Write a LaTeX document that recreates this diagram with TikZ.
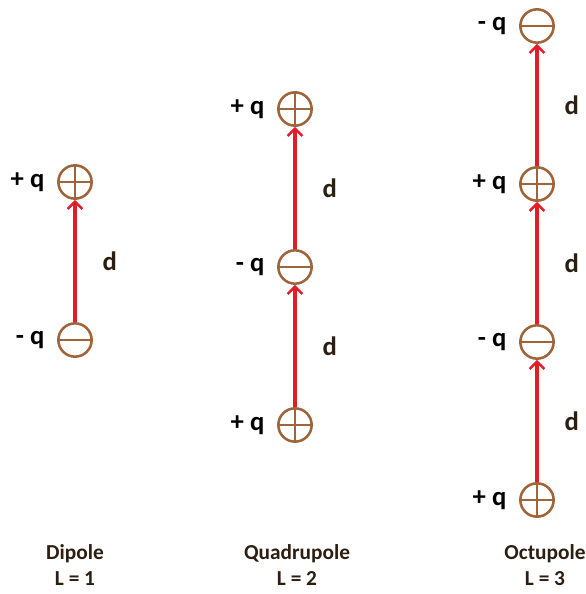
\documentclass[tikz,border=0pt]{standalone}
\usepackage{fontspec}
\setmainfont{Carlito}
\usepackage{tikz}
\usetikzlibrary{arrows.meta}
\usetikzlibrary{positioning}

\definecolor{qbrown}{RGB}{160,100,58}
\definecolor{qred}{RGB}{228,28,40}
\definecolor{qtext}{RGB}{45,30,18}

\tikzset{
  charge/.style={circle,draw=qbrown,line width=1.9pt,minimum size=25pt,inner sep=0pt},
  plus charge/.style={charge,label={[qlabel]left:+ q},
    path picture={\draw[qbrown,line width=1.5pt]
      (path picture bounding box.north) -- (path picture bounding box.south)
      (path picture bounding box.west) -- (path picture bounding box.east);}},
  minus charge/.style={charge,label={[qlabel]left:- q},
    path picture={\draw[qbrown,line width=1.5pt]
      (path picture bounding box.west) -- (path picture bounding box.east);}},
  qlabel/.style={font=\fontsize{20}{22}\selectfont\bfseries,text=black,label distance=6pt},
  title/.style={font=\fontsize{16}{19}\selectfont\bfseries,text=qtext,align=center}
}

\begin{document}
\begin{tikzpicture}[x=0.75pt,y=-0.75pt,>={Straight Barb[length=5.5pt,width=11pt,line width=1.8pt]},
                    node distance=118.5pt,
                    dipole arrow/.style={->,qred,line width=2.8pt},
                    dlabel/.style={right=16pt,font=\fontsize{20}{22}\selectfont\bfseries,text=qtext}]
  \useasboundingbox (0,0) rectangle (586,594);

  % dipole
  \node[minus charge] (d1) at (75,340) {};
  \node[plus charge] (d2) [above of=d1] {};
  \path (d1) edge[dipole arrow] node[dlabel] {d} (d2);
  \node[title] (dt) at (75,565) {Dipole\\L = 1};

  % quadrupole
  \node[plus charge] (q1) at (295,425) {};
  \node[minus charge] (q2) [above of=q1] {};
  \node[plus charge] (q3) [above of=q2] {};
  \path (q1) edge[dipole arrow] node[dlabel] {d} (q2)
        (q2) edge[dipole arrow] node[dlabel] {d} (q3);
  \node[title] (qt) at (297,565) {Quadrupole\\L = 2};

  % octupole
  \node[plus charge] (o1) at (537,500) {};
  \node[minus charge] (o2) [above of=o1] {};
  \node[plus charge] (o3) [above of=o2] {};
  \node[minus charge] (o4) [above of=o3] {};
  \path (o1) edge[dipole arrow] node[dlabel] {d} (o2)
        (o2) edge[dipole arrow] node[dlabel] {d} (o3)
        (o3) edge[dipole arrow] node[dlabel] {d} (o4);
  \node[title] (ot) at (545,565) {Octupole\\L = 3};
\end{tikzpicture}
\end{document}
